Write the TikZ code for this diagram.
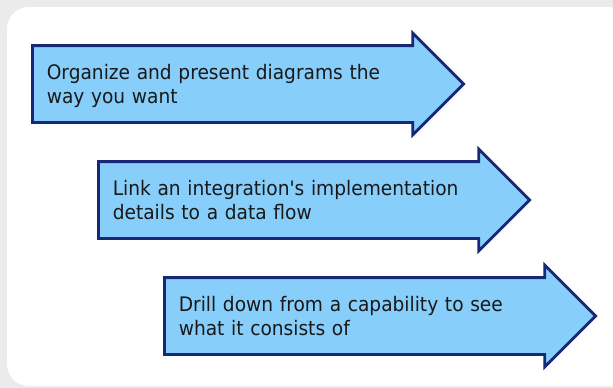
\documentclass[tikz,border=0pt]{standalone}
\usepackage{fontspec}
\setmainfont[FakeStretch=0.93, Ligatures=TeXOff]{DejaVu Sans}
\usepackage{tikz}
\usepackage{xcolor}
\definecolor{bggray}{RGB}{235,235,235}
\definecolor{skyfill}{RGB}{135,206,250}
\definecolor{navy}{RGB}{22,40,118}
\definecolor{inktext}{RGB}{25,25,25}
\usetikzlibrary{positioning, shapes.arrows}
\tikzstyle{Step} = [
single arrow,
single arrow tip angle=90,
single arrow head extend=12.5pt,
draw=navy,
line width=2.8pt,
fill=skyfill,
text=inktext,
text width=364pt,
align=left,
inner xsep=13pt,
inner ysep=15pt,
text height=17pt,
text depth=27pt,
font=\fontsize{20}{24}\selectfont,
anchor=tail]

\begin{document}
\begin{tikzpicture}[x=1pt, y=-1pt]
    \fill[bggray] (0,0) rectangle (613,388);
    \useasboundingbox (0,0) rectangle (613,388);
    \fill[white, rounded corners=22pt] (7,7) rectangle (630,386);

    \node [Step] (1) at (31,84) {Organize and present diagrams the\\way you want};
    \node [Step, below right=116pt and 66pt of 1.tail, anchor=tail] (2) {Link an integration's implementation\\details to a data flow};
    \node [Step, below right=116pt and 66pt of 2.tail, anchor=tail] (3) {Drill down from a capability to see\\what it consists of};
\end{tikzpicture}
\end{document}
